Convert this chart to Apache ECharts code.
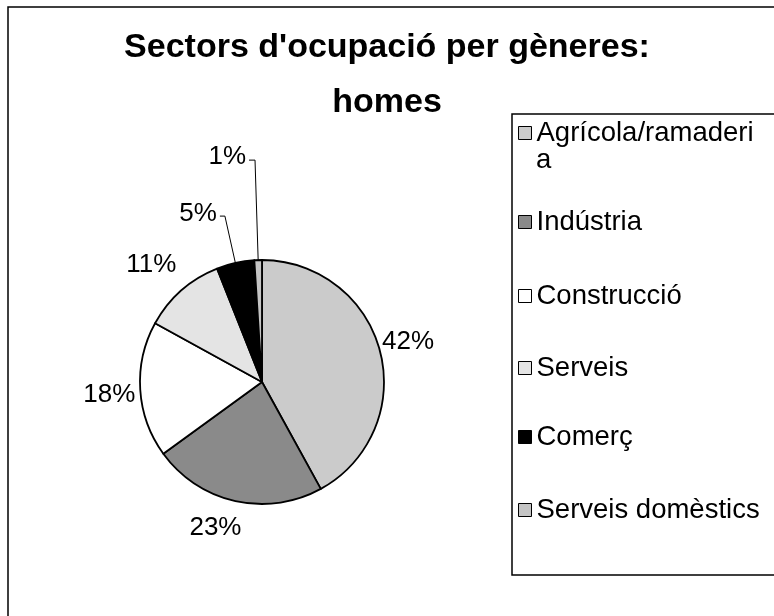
<!DOCTYPE html>
<html>
<head>
<meta charset="utf-8">
<script src="https://cdn.jsdelivr.net/npm/echarts@6/dist/echarts.min.js"></script>
<style>
  html, body { margin: 0; padding: 0; background: #fff; }
  #chart { width: 774px; height: 616px; }
</style>
</head>
<body>
<div id="chart"></div>
<script>
// sectors (clockwise from 12 o'clock) and share of men, %
const categories = ['Agrícola/ramaderia', 'Indústria', 'Construcció', 'Serveis', 'Comerç', 'Serveis domèstics'];
const values = [42, 23, 18, 11, 5, 1];

// grey tones standing in for the printed patterns
const fills = ['#cbcbcb', '#8a8a8a', '#ffffff', '#e4e4e4', '#000000', '#c4c4c4'];
// leader lines: only the two thin slices show one
const lineShow = [false, false, false, false, true, true];
const lineLen = [2, 18, 2, 24, 48, 100];
const lineLen2 = [0, 0, 0, 0, 5, 6];
// small nudges so the labels sit where the original put them
const labelDx = [-3, 13, 0, 14, 0, 0];
const labelDy = [-9, 9, 5, -8, -2, -3];

const chart = echarts.init(document.getElementById('chart'));

const font = 'Liberation Sans, Arial, sans-serif';
const legendFont = 27.5;
const legendLeft = 518;

// one legend per entry so the spacing follows the picture
const legendCenters = [133, 222, 296, 368, 437, 510];
const legends = categories.map((name, i) => ({
  data: [name],
  orient: 'vertical',
  left: legendLeft,
  top: legendCenters[i] - 14,
  padding: 0,
  itemWidth: 13,
  itemHeight: 13,
  icon: 'rect',
  selectedMode: false,
  itemStyle: { borderColor: '#000', borderWidth: 1 },
  // the first name wraps inside the box in the original
  formatter: n => (n === 'Agrícola/ramaderia' ? 'Agrícola/ramaderi' : n),
  textStyle: {
    fontFamily: font,
    fontSize: legendFont,
    lineHeight: 28,
    color: '#000'
  }
}));

const option = {
  backgroundColor: '#fff',
  animation: false,
  title: {
    text: "Sectors d'ocupació per gèneres:\nhomes",
    left: 'center',
    top: 15,
    textStyle: {
      fontFamily: font,
      fontWeight: 'bold',
      fontSize: 34,
      lineHeight: 55,
      color: '#000'
    }
  },
  legend: legends,
  graphic: [
    { type: 'rect', shape: { x: 8, y: 7, width: 790, height: 640 },
      style: { fill: 'none', stroke: '#000', lineWidth: 1.5 }, silent: true },
    { type: 'rect', shape: { x: 512, y: 114, width: 280, height: 461 },
      style: { fill: 'none', stroke: '#000', lineWidth: 1.5 }, silent: true },
    // wrapped tail of "Agrícola/ramaderia"
    { type: 'text', left: legendLeft + 18, top: legendCenters[0] + 13,
      style: { text: 'a', fontFamily: font, fontSize: legendFont, fill: '#000' }, silent: true }
  ],
  series: [{
    type: 'pie',
    center: [262, 382],
    radius: 122,
    startAngle: 90,
    clockwise: true,
    avoidLabelOverlap: false,
    itemStyle: { borderColor: '#000', borderWidth: 1.8 },
    label: {
      show: true,
      position: 'outside',
      formatter: '{c}%',
      fontFamily: font,
      fontSize: 26,
      color: '#000',
      distanceToLabelLine: 3
    },
    labelLine: { lineStyle: { color: '#000', width: 1 } },
    labelLayout: p => ({ dx: labelDx[p.dataIndex], dy: labelDy[p.dataIndex] }),
    emphasis: { disabled: true },
    data: categories.map((name, i) => ({
      name: name,
      value: values[i],
      itemStyle: { color: fills[i] },
      labelLine: { show: lineShow[i], length: lineLen[i], length2: lineLen2[i] }
    }))
  }]
};

chart.setOption(option);
</script>
</body>
</html>
